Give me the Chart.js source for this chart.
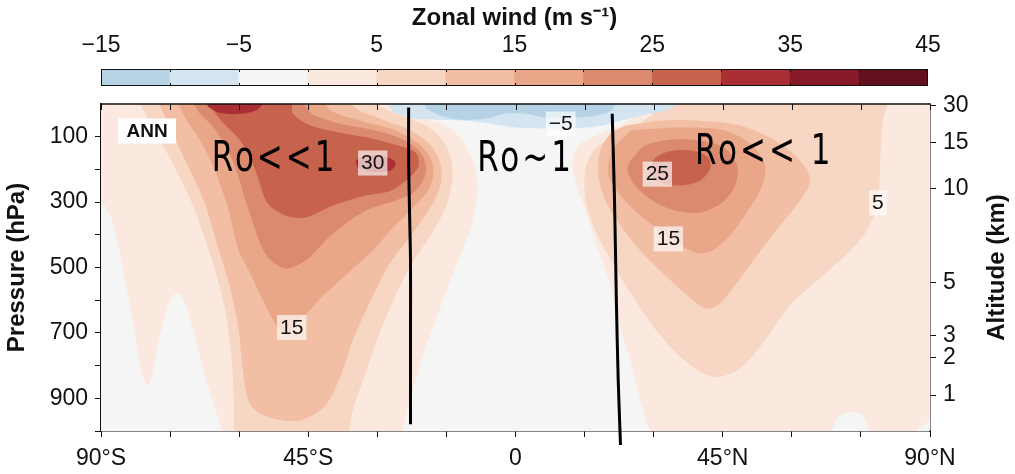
<!DOCTYPE html>
<html>
<head>
<meta charset="utf-8">
<script src="https://cdn.jsdelivr.net/npm/chart.js@4.4.1/dist/chart.umd.min.js"></script>
<style>
  html, body { margin: 0; padding: 0; background: #fff; }
  #wrap { position: relative; width: 1015px; height: 474px; }
  canvas { position: absolute; left: 0; top: 0; }
</style>
</head>
<body>
<div id="wrap">
  <canvas id="main" width="1015" height="474" style="width:1015px;height:474px"></canvas>
  <canvas id="bar" width="1015" height="100" style="width:1015px;height:100px"></canvas>
</div>
<script>
const FONT = 'Arial, "Liberation Sans", Helvetica, sans-serif';
Chart.defaults.font.family = FONT;
Chart.defaults.font.size = 23;
Chart.defaults.color = '#111';

// Colour levels (m/s) – each colour fills [levels[i], levels[i+1]]
const levels = [-15, -10, -5, 0, 5, 10, 15, 20, 25, 30, 35, 40, 45];
const levelColors = ['#b6d3e6', '#d4e4f0', '#f5f5f5', '#fbe9df', '#f8d6c4', '#f2bfa4',
                     '#e9a689', '#dc8a6d', '#c7624d', '#aa2f34', '#871a28', '#63101f'];
const barLabels = [-15, -5, 5, 15, 25, 35, 45];

// Axes
const latTicks = [-90, -75, -60, -45, -30, -15, 0, 15, 30, 45, 60, 75, 90];
const latLabels = [-90, -45, 0, 45, 90];
const presTicks = [100, 200, 300, 400, 500, 600, 700, 800, 900, 1000];
const presLabels = [100, 300, 500, 700, 900];
const altKm = [30, 15, 10, 5, 3, 2, 1];
const altHpa = [4, 118, 258, 546, 708, 775, 890];

// Contour outlines, [latitude, pressure hPa]; each one bounds the region above its level
const domain = [[-95, -60], [95, -60], [95, 1070], [-95, 1070]];
const sh0 = [[-92,-40],[-26,-40],[-24,0],[-20.6,39],[-15.2,66],[-11.5,112],[-8.9,188],[-8.2,265],[-9.3,356],[-11.5,448],[-14.1,539],[-16.9,646],[-19.7,753],[-22.3,875],[-24.5,1000],[-25,1060],[-92,1060]];
const nh0 = [[30.4,-40],[92,-40],[92,1060],[29.3,1060],[29.3,1015],[27.1,905],[24.9,783],[22.3,661],[20.6,554],[18.0,448],[15.2,326],[13.0,234],[12.4,173],[13.7,127],[17.3,97],[22.8,66],[28.2,20]];
const shGap = [[-92,295],[-88.9,316],[-86.7,402],[-85.2,509],[-83.9,600],[-82.4,722],[-81.3,814],[-80,860],[-79.2,844],[-77.4,722],[-75.7,631],[-74.4,588],[-73.1,579],[-71.6,615],[-69.4,722],[-67.2,844],[-65.1,936],[-63.5,1015],[-63.3,1060],[-92,1060]];
const nhGap1 = [[68.3,1060],[68.3,1015],[70.0,960],[72.7,942],[75.3,951],[77.0,1015],[77.0,1060]];
const nhGap2 = [[86.5,1060],[86.5,1015],[88.3,982],[92,967],[92,1060]];
const sh5 = [[-83.5,-56],[-33.2,-35],[-29.3,8],[-24.9,36],[-19.5,66],[-15.8,112],[-13.9,173],[-13.7,234],[-15.0,310],[-18.0,393],[-22.3,484],[-26.0,585],[-29.7,707],[-32.7,829],[-35.3,936],[-36.2,1015],[-36.4,1060],[-61.4,1060],[-61.2,1015],[-61.2,905],[-61.8,753],[-63.5,600],[-66.6,448],[-70.5,295],[-75.9,143],[-79.6,51]];
const nh5 = [[33.2,-56],[80.5,-56],[79.6,66],[79.2,173],[78.7,295],[76.6,380],[72.7,448],[66.1,533],[59.6,615],[54.2,722],[48.8,808],[43.4,835],[38.0,799],[31.4,707],[26.0,600],[21.0,484],[17.3,386],[15.2,295],[15.2,197],[17.3,136],[21.7,97],[27.1,57],[32.0,10]];
const sh10 = [[-79.2,-56],[-38.5,-40],[-34.7,14],[-29.3,45],[-22.8,81],[-18.4,127],[-16.3,182],[-16.3,249],[-18.9,326],[-23.2,411],[-27.1,484],[-31.4,600],[-35.3,722],[-37.9,829],[-41.2,921],[-46.6,967],[-53.1,960],[-57.5,921],[-59.2,814],[-60.1,692],[-61.8,570],[-64.4,448],[-67.7,295],[-72.7,143],[-75.9,45]];
const nh10 = [[23.9,66],[31.4,51],[40.1,51],[48.8,66],[56.4,112],[61.8,173],[64.0,234],[61.8,295],[57.5,371],[52.0,472],[47.7,554],[44.0,615],[41.2,625],[38.0,594],[32.5,524],[27.1,448],[22.8,371],[19.5,295],[18.0,219],[18.4,143],[20.6,91],[23.9,66]];
const sh15 = [[-75.3,-56],[-43.5,-40],[-40.1,20],[-33.6,51],[-26.0,81],[-20.6,127],[-18.0,182],[-18.4,249],[-21.7,310],[-26.7,380],[-31.0,448],[-36.9,524],[-42.7,600],[-47.1,667],[-49.9,707],[-52.0,676],[-54.9,600],[-57.9,509],[-60.1,448],[-62.9,295],[-67.2,143],[-71.6,45]];
const nh15 = [[24.9,81],[35.8,72],[45.5,81],[51.4,127],[54.2,188],[53.6,249],[50.5,326],[46.6,402],[42.7,448],[39.7,457],[35.8,432],[31.9,393],[27.1,341],[22.8,280],[20.2,219],[21.0,143],[24.9,81]];
const sh20 = [[-72.2,-56],[-48.2,-40],[-44.5,27],[-39.0,57],[-30.4,81],[-23.9,112],[-20.2,158],[-19.5,210],[-21.7,265],[-26.0,295],[-32.5,326],[-40.1,402],[-45.5,478],[-49.9,503],[-53.6,472],[-55.7,417],[-58.6,295],[-61.4,173],[-65.1,81],[-68.7,27]];
const nh20 = [[24.9,173],[28.2,127],[33.6,109],[40.1,112],[45.5,136],[48.1,188],[47.7,249],[44.9,301],[40.1,332],[34.7,326],[29.7,295],[26.0,249],[24.3,203],[24.9,173]];
const sh25 = [[-69.4,-56],[-48.6,-40],[-48.4,27],[-44.5,66],[-38.0,88],[-31.0,106],[-25.4,127],[-21.7,149],[-21.0,188],[-23.2,228],[-27.1,265],[-32.5,280],[-39.5,310],[-45.5,347],[-49.9,341],[-53.8,304],[-55.7,234],[-57.5,167],[-60.1,106],[-64.0,51]];
const nh25 = [[28.8,210],[30.4,164],[34.0,143],[38.6,143],[41.9,164],[42.3,197],[40.1,234],[36.2,249],[31.9,243],[28.8,210]];
const sh30a = [[-67.5,-56],[-54.5,-40],[-55.7,14],[-59.6,30],[-64.4,27],[-66.8,8]];
const sh30b = [[-34.7,173],[-32.5,158],[-28.2,161],[-26.0,179],[-27.1,203],[-31.4,207],[-34.3,194],[-34.7,173]];
const neg5 = [[-29.7,-56],[38.4,-56],[33.6,14],[27.1,36],[21.3,57],[17.3,69],[11.5,75],[6.5,75],[0,72],[-5.4,60],[-11.0,51],[-16.5,48],[-22.1,45],[-26.5,27]];
const neg10 = [[-20.4,-56],[21.5,-56],[21.3,14],[17.3,36],[11.9,42],[6.5,42],[2.2,30],[-2.2,30],[-6.5,45],[-11.9,48],[-16.3,36],[-19.5,14]];

// Hand-drawn separators
const lineS = [[-23.2,11],[-23.2,173],[-23.0,335],[-22.8,478],[-22.8,692],[-22.8,979]];
const lineN = [[21.0,30],[21.5,295],[21.9,600],[22.3,844],[22.8,1043]];

// Contour labels and notes
const cLabelText = ['30', '25', '15', '15', '5', '\u22125'];
const cLabelLat = [-31.0, 30.8, 33.2, -48.6, 78.7, 9.8];
const cLabelP = [179, 213, 411, 682, 301, 60];
const noteText = ['Ro<<1', 'Ro~1', 'Ro<< 1'];
const noteLat = [-52.3, 2.2, 54.0];
const noteP = [173, 173, 149];

// painter order, bottom first: [outline, lower level]
const layers = [
  [domain, -5],
  [sh0, 0], [nh0, 0],
  [shGap, -5], [nhGap1, -5], [nhGap2, -5],
  [sh5, 5], [nh5, 5],
  [sh10, 10], [nh10, 10],
  [sh15, 15], [nh15, 15],
  [sh20, 20], [nh20, 20],
  [sh25, 25], [nh25, 25],
  [sh30a, 30], [sh30b, 30],
  [neg5, -10], [neg10, -15]
];

const toXY = pts => pts.map(([x, y]) => ({ x, y }));

const fillSets = layers.map(([pts, lo], i) => {
  const col = levelColors[levels.indexOf(lo)];
  return {
    data: toXY(pts),
    fill: 'shape',
    backgroundColor: col,
    borderColor: col,
    borderWidth: 0,
    pointRadius: 0,
    tension: pts === domain ? 0 : 0.3,
    order: 100 - i
  };
});

const penSets = [lineS, lineN].map(pts => ({
  data: toXY(pts),
  fill: false,
  borderColor: '#000',
  borderWidth: 3,
  pointRadius: 0,
  tension: 0.3,
  clip: false,
  order: -1
}));

const latText = v => v === 0 ? '0' : Math.abs(v) + '\u00B0' + (v < 0 ? 'S' : 'N');

const overlay = {
  id: 'overlay',
  afterDatasetsDraw(chart) {
    const { ctx, scales: { x, y } } = chart;
    ctx.save();
    ctx.textAlign = 'center';
    ctx.textBaseline = 'middle';
    ctx.font = '21px ' + FONT;
    cLabelText.forEach((t, i) => {
      const px = x.getPixelForValue(cLabelLat[i]);
      const py = y.getPixelForValue(cLabelP[i]);
      const w = ctx.measureText(t).width + 6;
      ctx.fillStyle = 'rgba(255,255,255,0.65)';
      ctx.fillRect(px - w / 2, py - 12, w, 25);
      ctx.fillStyle = '#111';
      ctx.fillText(t, px, py + 1);
    });
    // panel tag
    const ax = x.getPixelForValue(-80), ay = y.getPixelForValue(81);
    ctx.font = 'bold 19px ' + FONT;
    ctx.fillStyle = '#fff';
    ctx.fillRect(ax - 29, ay - 12, 58, 25);
    ctx.fillStyle = '#111';
    ctx.fillText('ANN', ax, ay + 1);
    // hand-written notes
    ctx.font = '31px "DejaVu Sans", sans-serif';
    ctx.fillStyle = '#000';
    ctx.letterSpacing = '3px';
    noteText.forEach((t, i) => {
      ctx.save();
      ctx.translate(x.getPixelForValue(noteLat[i]), y.getPixelForValue(noteP[i]));
      ctx.scale(1, 1.35);
      ctx.fillText(t, 0, 0);
      ctx.restore();
    });
    ctx.restore();
  },
  afterDraw(chart) {
    const { ctx, chartArea: a, scales: { x } } = chart;
    ctx.save();
    ctx.strokeStyle = '#111';
    ctx.lineWidth = 1.5;
    ctx.beginPath();
    ctx.moveTo(a.left, a.top);
    ctx.lineTo(a.right, a.top);
    ctx.stroke();
    ctx.lineWidth = 1;
    latTicks.forEach(v => {
      const px = Math.round(x.getPixelForValue(v)) + 0.5;
      ctx.beginPath();
      ctx.moveTo(px, a.top);
      ctx.lineTo(px, a.top + 6);
      ctx.stroke();
    });
    ctx.fillStyle = '#111';
    ctx.font = 'bold 24px ' + FONT;
    ctx.textAlign = 'center';
    ctx.textBaseline = 'middle';
    ctx.translate(997, (a.top + a.bottom) / 2);
    ctx.rotate(-Math.PI / 2);
    ctx.fillText('Altitude (km)', 0, 0);
    ctx.restore();
  }
};

const axisGrid = { drawOnChartArea: false, color: '#111', tickLength: 6, lineWidth: 1 };
const axisBorder = { color: '#111', width: 1.5 };

new Chart(document.getElementById('main'), {
  type: 'line',
  data: { datasets: [...fillSets, ...penSets] },
  options: {
    responsive: false,
    animation: false,
    devicePixelRatio: 1,
    layout: { padding: { top: 104, left: 0, right: 0, bottom: 0 } },
    elements: { line: { capBezierPoints: false } },
    plugins: { legend: { display: false }, tooltip: { enabled: false } },
    scales: {
      x: {
        type: 'linear', min: -90, max: 90, z: 1,
        afterBuildTicks: s => { s.ticks = latTicks.map(v => ({ value: v })); },
        ticks: { autoSkip: false, maxRotation: 0, padding: 8,
                 callback: v => latLabels.includes(v) ? latText(v) : '' },
        grid: axisGrid, border: axisBorder,
        afterFit: s => { s.height = 43; }
      },
      y: {
        type: 'linear', reverse: true, min: 0, max: 1000, z: 1,
        afterBuildTicks: s => { s.ticks = presTicks.map(v => ({ value: v })); },
        ticks: { autoSkip: false, padding: 7,
                 callback: v => presLabels.includes(v) ? String(v) : '' },
        grid: axisGrid, border: axisBorder,
        title: { display: true, text: 'Pressure (hPa)', font: { weight: 'bold', size: 24 },
                 padding: { top: 3, bottom: 0 } },
        afterFit: s => { s.width = 101; }
      },
      y2: {
        type: 'linear', position: 'right', reverse: true, min: 0, max: 1000, z: 1,
        afterBuildTicks: s => { s.ticks = altHpa.map(v => ({ value: v })); },
        ticks: { autoSkip: false, padding: 7, callback: (v, i) => String(altKm[i]) },
        grid: axisGrid, border: axisBorder,
        afterFit: s => { s.width = 85; }
      }
    }
  },
  plugins: [overlay]
});

// ===== Colour bar =====
const barFrame = {
  id: 'barFrame',
  afterDraw(chart) {
    const { ctx, chartArea: a, scales: { x } } = chart;
    ctx.save();
    ctx.strokeStyle = '#111';
    ctx.lineWidth = 1;
    ctx.strokeRect(a.left + 0.5, a.top + 0.5, a.width - 1, a.height - 1);
    levels.slice(1, -1).forEach(v => {
      const px = Math.round(x.getPixelForValue(v)) + 0.5;
      ctx.beginPath();
      ctx.moveTo(px, a.top); ctx.lineTo(px, a.top + 3);
      ctx.moveTo(px, a.bottom - 3); ctx.lineTo(px, a.bottom);
      ctx.stroke();
    });
    ctx.restore();
  }
};

new Chart(document.getElementById('bar'), {
  type: 'bar',
  data: {
    labels: ['u'],
    datasets: [{
      data: levelColors.map((c, i) => ({ x: [levels[i], levels[i + 1]], y: 'u' })),
      backgroundColor: levelColors,
      borderWidth: 0,
      barPercentage: 1,
      categoryPercentage: 1
    }]
  },
  options: {
    indexAxis: 'y',
    responsive: false,
    animation: false,
    devicePixelRatio: 1,
    layout: { padding: { left: 101, right: 87, top: 0, bottom: 14 } },
    plugins: { legend: { display: false }, tooltip: { enabled: false } },
    scales: {
      x: {
        type: 'linear', position: 'top', min: -15, max: 45,
        afterBuildTicks: s => { s.ticks = barLabels.map(v => ({ value: v })); },
        ticks: { autoSkip: false, maxRotation: 0, padding: 10,
                 callback: v => v < 0 ? '\u2212' + (-v) : String(v) },
        grid: { display: false, drawTicks: false },
        border: { display: false },
        title: { display: true, text: 'Zonal wind (m s\u207B\u00B9)',
                 font: { weight: 'bold', size: 24 }, padding: { top: 4, bottom: 0 } },
        afterFit: s => { s.height = 69; }
      },
      y: { display: false }
    }
  },
  plugins: [barFrame]
});
</script>
</body>
</html>
